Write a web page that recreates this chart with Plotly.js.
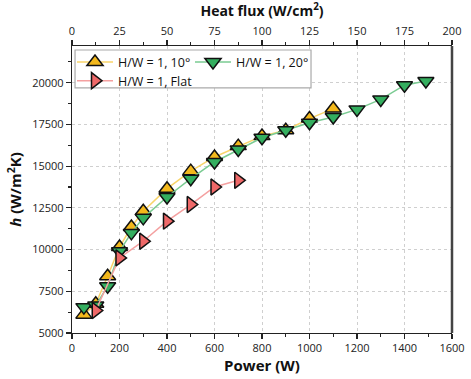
<!DOCTYPE html>
<html><head><meta charset="utf-8">
<script src="https://cdn.plot.ly/plotly-3.0.1.min.js"></script>
<style>html,body{margin:0;padding:0;background:#fff}</style>
</head><body><div id="chart" style="width:471px;height:379px"></div>
<script>
var names = ["H/W = 1, 10°", "H/W = 1, 20°", "H/W = 1, Flat"];
var power10 = [50,100,150,200,250,300,400,500,600,700,800,900,1000,1100];
var h10 = [6100,6750,8400,10150,11350,12300,13650,14700,15550,16200,16800,17150,17850,18450];
var power20 = [50,100,150,200,250,300,400,500,600,700,800,900,1000,1100,1200,1300,1400,1490];
var h20 = [6550,6650,7800,9900,11000,11900,13150,14250,15250,16000,16700,17150,17600,17950,18400,19000,19850,20100];
var powerFlat = [100,200,300,400,500,600,700];
var hFlat = [6350,9500,10500,11700,12700,13750,14150];
var xTicks = [0,200,400,600,800,1000,1200,1400,1600];
var topTicks = [0,25,50,75,100,125,150,175,200];
var yTicks = [5000,7500,10000,12500,15000,17500,20000];

var FONT = "Open Sans, Noto Sans, sans-serif";
function tr(x, y, name, sym, fill, line, lg) {
  return {x: x, y: y, name: name, type: 'scatter', mode: 'lines+markers', legend: lg,
    line: {color: line, width: 1.5},
    marker: {symbol: sym, size: 14, color: fill, line: {color: '#111', width: 1.5}}};
}
var data = [
  tr(power10, h10, names[0], 'triangle-up', '#F3B81C', '#F8D46A', 'legend'),
  tr(power20, h20, names[1], 'triangle-down', '#34AE5F', '#7ACB92', 'legend'),
  tr(powerFlat, hFlat, names[2], 'triangle-right', '#EE6868', '#F4A0A0', 'legend2'),
  {x: [0], y: [0], xaxis: 'x2', yaxis: 'y', type: 'scatter', mode: 'markers', showlegend: false, hoverinfo: 'skip', marker: {opacity: 0}}
];
var axisCommon = {
  showline: true, linecolor: '#222', linewidth: 1.2,
  ticks: 'outside', ticklen: 5, tickwidth: 1.2, tickcolor: '#222',
  tickfont: {family: FONT, size: 11, color: '#222'},
  zeroline: false
};
var legendCommon = {orientation: 'h', xanchor: 'left', yanchor: 'top', itemwidth: 36,
  bgcolor: 'rgba(0,0,0,0)', borderwidth: 0, font: {family: FONT, size: 12.5, color: '#111'}};
var layout = {
  width: 471, height: 379,
  margin: {l: 72, r: 19, t: 46, b: 46},
  paper_bgcolor: '#fff', plot_bgcolor: '#fff',
  showlegend: true,
  legend: Object.assign({}, legendCommon, {x: 0.0, y: 0.995, entrywidth: 67}),
  legend2: Object.assign({}, legendCommon, {x: 0.0, y: 0.93}),
  xaxis: Object.assign({}, axisCommon, {
    range: [0, 1600], tickvals: xTicks, ticktext: xTicks.map(String),
    showgrid: true, gridcolor: '#cfcfcf', griddash: 'dot', gridwidth: 1,
    minor: {dtick: 100, tick0: 0, ticks: 'outside', ticklen: 3, tickcolor: '#222', showgrid: false},
    title: {text: '<b>Power (W)</b>', font: {family: FONT, size: 15, color: '#111'}, standoff: 4}
  }),
  xaxis2: Object.assign({}, axisCommon, {
    overlaying: 'x', side: 'top', range: [0, 200], tickvals: topTicks, ticktext: topTicks.map(String),
    showgrid: false,
    minor: {dtick: 12.5, tick0: 0, ticks: 'outside', ticklen: 3, tickcolor: '#222', showgrid: false},
    title: {text: '<b>Heat flux (W/cm<sup>2</sup>)</b>', font: {family: FONT, size: 14, color: '#111'}, standoff: 4}
  }),
  yaxis: Object.assign({}, axisCommon, {
    range: [5000, 22200], tickvals: yTicks, ticktext: yTicks.map(String),
    showgrid: true, gridcolor: '#cfcfcf', griddash: 'dot', gridwidth: 1,
    minor: {dtick: 1250, tick0: 5000, ticks: 'outside', ticklen: 3, tickcolor: '#222', showgrid: false},
    title: {text: '<b><i>h</i> (W/m<sup>2</sup>K)</b>', font: {family: FONT, size: 15, color: '#111'}, standoff: 6}
  }),
  shapes: [
    {type: 'rect', xref: 'paper', yref: 'paper', x0: 0.008, x1: 0.629, y0: 0.854, y1: 0.986, layer: 'above',
     fillcolor: '#fff', line: {color: '#aaa', width: 1.2}},
    {type: 'line', xref: 'paper', yref: 'paper', x0: 1, x1: 1, y0: 0, y1: 1, line: {color: '#444', width: 2.5}}
  ]
};
Plotly.newPlot('chart', data, layout, {displayModeBar: false, staticPlot: true});
</script></body></html>
